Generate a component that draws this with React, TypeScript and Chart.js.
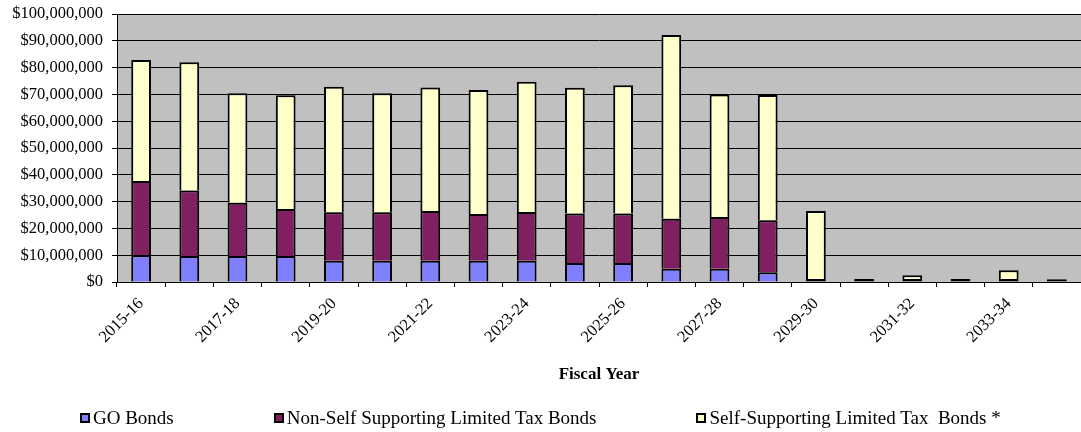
import React, { useEffect, useRef } from 'react';
import { Chart, registerables } from 'chart.js';

Chart.register(...registerables);

const fiscalYears = [
  '2015-16', '2016-17', '2017-18', '2018-19', '2019-20', '2020-21', '2021-22',
  '2022-23', '2023-24', '2024-25', '2025-26', '2026-27', '2027-28', '2028-29',
  '2029-30', '2030-31', '2031-32', '2032-33', '2033-34', '2034-35',
];

// values in dollars
const goBonds = [
  10.0e6, 9.7e6, 9.7e6, 9.7e6, 7.9e6, 7.9e6, 7.9e6, 7.9e6, 7.9e6, 7.1e6,
  7.1e6, 4.9e6, 4.9e6, 3.6e6, 0, 0, 0, 0, 0, 0,
];
const nonSelfSupporting = [
  27.7e6, 24.4e6, 19.9e6, 17.5e6, 18.1e6, 18.1e6, 18.6e6, 17.5e6, 18.2e6, 18.5e6,
  18.5e6, 18.7e6, 19.4e6, 19.4e6, 1.1e6, 1.1e6, 1.1e6, 1.1e6, 1.1e6, 1.0e6,
];
const selfSupporting = [
  45.1e6, 47.9e6, 40.8e6, 42.5e6, 46.9e6, 44.4e6, 46.1e6, 46.2e6, 48.6e6, 46.9e6,
  47.8e6, 68.6e6, 45.7e6, 46.8e6, 25.4e6, 0, 1.4e6, 0, 3.3e6, 0,
];

const seriesNames = [
  'GO Bonds',
  'Non-Self Supporting Limited Tax Bonds',
  'Self-Supporting Limited Tax  Bonds *',
];
const seriesColors = ['#8080FF', '#802060', '#FFFFCC'];

const yMax = 100e6;
const yStep = 10e6;
const xTitle = 'Fiscal Year';

const FONT = '"Liberation Serif", "Times New Roman", serif';

const plotBg = {
  id: 'plotBg',
  beforeDraw(chart: any) {
    const { ctx, chartArea } = chart;
    if (!chartArea) return;
    ctx.save();
    ctx.fillStyle = '#C0C0C0';
    ctx.fillRect(chartArea.left, chartArea.top, chartArea.right - chartArea.left, chartArea.bottom - chartArea.top);
    ctx.restore();
  },
};

export default function App() {
  const ref = useRef<HTMLCanvasElement | null>(null);

  useEffect(() => {
    if (!ref.current) return;
    const skip = (ctx: any) => (Math.abs(ctx.raw) < 1.2e6 ? false : 'start');
    const datasets = [goBonds, nonSelfSupporting, selfSupporting].map((d, i) => ({
      label: seriesNames[i],
      data: d,
      backgroundColor: seriesColors[i],
      borderColor: '#000',
      borderWidth: 2,
      borderSkipped: skip,
      barPercentage: 0.41,
      categoryPercentage: 1,
    }));
    const chart = new Chart(ref.current, {
      type: 'bar',
      data: { labels: fiscalYears, datasets },
      plugins: [plotBg],
      options: {
        animation: false,
        responsive: true,
        maintainAspectRatio: false,
        layout: { padding: { top: 14, right: 0, bottom: 43, left: 0 } },
        plugins: {
          legend: { display: false },
          tooltip: { enabled: false },
        },
        scales: {
          x: {
            stacked: true,
            offset: true,
            grid: {
              display: true,
              drawOnChartArea: false,
              drawTicks: true,
              tickLength: 5,
              color: '#000',
              offset: true,
            },
            border: { display: true, color: '#000', width: 1 },
            ticks: {
              autoSkip: false,
              minRotation: 45,
              maxRotation: 45,
              padding: 7,
              color: '#000',
              font: { family: FONT, size: 16.5 },
              callback: (_v: any, i: number) => (i % 2 === 0 ? fiscalYears[i] : ''),
            },
            title: {
              display: true,
              text: xTitle,
              color: '#000',
              font: { family: FONT, size: 17, weight: 'bold' },
              padding: { top: 4, bottom: 4 },
            },
            afterFit: (s: any) => {
              s.height = 107;
              s.paddingLeft = 0;
              s.paddingRight = 0;
            },
          },
          y: {
            stacked: true,
            min: 0,
            max: yMax,
            grid: {
              color: '#000',
              lineWidth: 1,
              tickLength: 5,
              drawTicks: true,
            },
            border: { display: true, color: '#000', width: 1 },
            ticks: {
              stepSize: yStep,
              padding: 9,
              color: '#000',
              font: { family: FONT, size: 16.5 },
              callback: (v: any) => '$' + Number(v).toLocaleString('en-US'),
            },
            afterFit: (s: any) => {
              s.width = 117;
              s.paddingTop = 0;
              s.paddingBottom = 0;
            },
          },
        },
      } as any,
    });
    return () => chart.destroy();
  }, []);

  return (
    <div style={{ position: 'fixed', left: 0, top: 0, width: 1081, height: 432, background: '#fff' }}>
      <canvas ref={ref} />
      <div
        style={{
          position: 'absolute',
          left: 80,
          top: 406,
          height: 24,
          display: 'flex',
          alignItems: 'center',
          gap: 100,
          fontFamily: FONT,
          fontSize: 19,
          color: '#000',
          whiteSpace: 'pre',
        }}
      >
        {seriesNames.map((n, i) => (
          <div key={n} style={{ display: 'flex', alignItems: 'center' }}>
            <span
              style={{
                display: 'inline-block',
                width: 10,
                height: 10,
                boxSizing: 'border-box',
                border: '2px solid #000',
                background: seriesColors[i],
                marginRight: 3,
              }}
            />
            <span style={{ lineHeight: '24px' }}>{n}</span>
          </div>
        ))}
      </div>
    </div>
  );
}
